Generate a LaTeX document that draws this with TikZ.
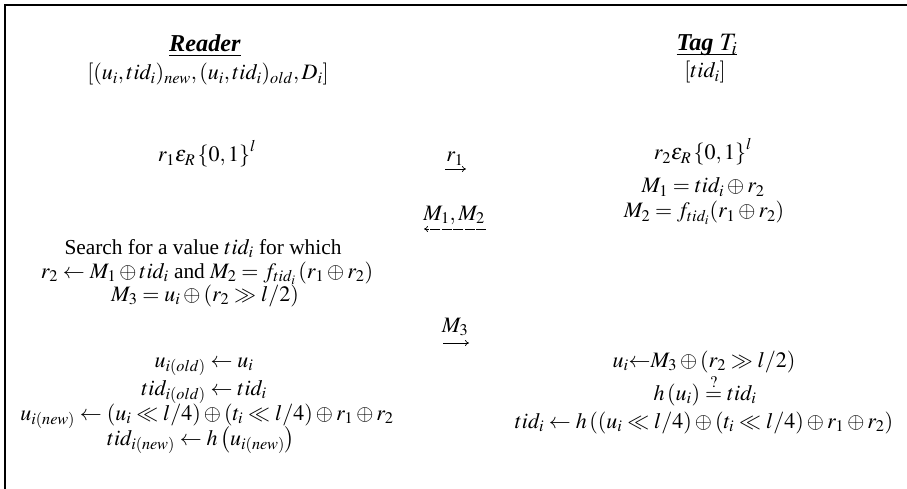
\documentclass[tikz,border=0pt]{standalone}
\usepackage{mathptmx}
\usepackage{fontspec}
\setmainfont[Scale=0.97]{Liberation Serif}
\usetikzlibrary{arrows.meta}
\newcommand\fsz{\fontsize{22}{26}\selectfont}
\newcommand\hsz{\fontsize{25}{28}\selectfont}
\begin{document}
\begin{tikzpicture}[x=1pt,y=-1pt,
  txt/.style={anchor=base, inner sep=0pt, font=\fsz},
  head/.style={anchor=base, inner sep=0pt, font=\hsz},
  msg/.style={-{To[length=4pt,width=6pt]}, line width=0.7pt},
  frame/.style={line width=2.4pt}]
\useasboundingbox (0,0) rectangle (907,489);
% frame
\coordinate (fb) at (5,489);
\coordinate (fc) at (5,5);
\coordinate (fr) at (907,5);
\draw[frame] (fb) -- (fc) -- (fr);
% headings
\node[head] (rd) at (205,52) {\underline{\textbf{\textit{Reader}}}};
\node[txt] (rdk) at (208,80) {$[(u_i,tid_i)_{new},(u_i,tid_i)_{old},D_i]$};
\node[head] (tg) at (707,51) {\underline{\smash{\textbf{\textit{Tag}} $T_i$}}};
\node[txt] (tgk) at (705,78) {$[tid_i]$};
% reader side
\node[txt] (r1g) at (207,162) {$r_1\varepsilon_R\left\{0,1\right\}^l$};
\node[txt] (s1) at (203,254) {Search for a value $tid_i$ for which};
\node[txt] (s2) at (207,278) {$r_2\leftarrow M_1\oplus tid_i$ and $M_2=f_{tid_i}\left(r_1\oplus r_2\right)$};
\node[txt] (s3) at (205,301) {$M_3=u_i\oplus\left(r_2\gg l/2\right)$};
\node[txt] (l1) at (204,367) {$u_{i(old)}\leftarrow u_i$};
\node[txt] (l2) at (204,395) {$tid_{i(old)}\leftarrow tid_i$};
\node[txt] (l3) at (207,420) {$u_{i(new)}\leftarrow(u_i\ll l/4)\oplus(t_i\ll l/4)\oplus r_1\oplus r_2$};
\node[txt] (l4) at (201,445) {$tid_{i(new)}\leftarrow h\left(u_{i(new)}\right)$};
% tag side
\node[txt] (r2g) at (703,160) {$r_2\varepsilon_R\left\{0,1\right\}^l$};
\node[txt] (m1) at (703,193) {$M_1=tid_i\oplus r_2$};
\node[txt] (m2) at (704,218) {$M_2=f_{tid_i}(r_1\oplus r_2)$};
\node[txt] (t1) at (704,367) {$u_i{\leftarrow}M_3\oplus(r_2\gg l/2)$};
\node[txt] (t2) at (705,400) {$h\left(u_i\right)\stackrel{?}{=}tid_i$};
\node[txt] (t3) at (704,428) {$tid_i\leftarrow h\left((u_i\ll l/4)\oplus(t_i\ll l/4)\oplus r_1\oplus r_2\right)$};
% messages
\node[txt] (lr1) at (455,162) {$r_1$};
\coordinate (a1s) at (445,169);
\coordinate (a1e) at (466,169);
\draw[msg] (a1s) -- (a1e);
\node[txt] (lm12) at (454,220) {$M_1,M_2$};
\coordinate (a2s) at (486,229);
\coordinate (a2e) at (424,229);
\draw[msg, dash pattern=on 10pt off 1.5pt] (a2s) -- (a2e);
\node[txt] (lm3) at (455,332) {$M_3$};
\coordinate (a3s) at (443,343);
\coordinate (a3e) at (469,343);
\draw[msg] (a3s) -- (a3e);
\end{tikzpicture}
\end{document}
